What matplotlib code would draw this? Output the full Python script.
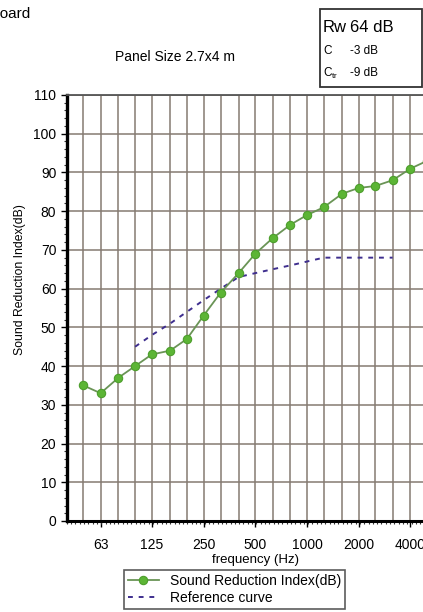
import numpy as np
import matplotlib
matplotlib.use("Agg")
import matplotlib.pyplot as plt
from matplotlib.patches import Rectangle
from matplotlib.ticker import FixedLocator, NullFormatter

plt.rcParams['font.family'] = ['Liberation Sans', 'DejaVu Sans']
plt.rcParams['mathtext.fontset'] = 'custom'
plt.rcParams['mathtext.rm'] = 'Liberation Sans'

# third-octave bands and measured values
freqs = [50, 63, 80, 100, 125, 160, 200, 250, 315, 400, 500, 630, 800,
         1000, 1250, 1600, 2000, 2500, 3150, 4000, 5000]
sri = [35, 33, 37, 40, 43, 44, 47, 53, 59, 64, 69, 73, 76.5,
       79, 81, 84.5, 86, 86.5, 88, 91, 93]

# shifted ISO 717 reference curve
ref_freqs = [100, 125, 160, 200, 250, 315, 400, 500, 630, 800,
             1000, 1250, 1600, 2000, 2500, 3150]
ref = [45, 48, 51, 54, 57, 60, 63, 64, 65, 66, 67, 68, 68, 68, 68, 68]

tick_freqs = [63, 125, 250, 500, 1000, 2000, 4000]
grid_freqs = freqs + [6300]

W, H = 423, 612
fig = plt.figure(figsize=(W / 100, H / 100), dpi=100)

# axes runs past the right edge like the cropped original
ax = fig.add_axes([66.7 / W, 91 / H, 377.7 / W, 426 / H])
ax.set_xscale('log')
ax.set_xlim(40, 6300)
ax.set_ylim(0, 110)

gcol = '#857a72'
for f in grid_freqs:
    ax.axvline(f, color=gcol, lw=1.1, zorder=1)
for v in range(10, 111, 10):
    ax.axhline(v, color=gcol, lw=1.1, zorder=1)

ax.plot(freqs, sri, '-', color='#6a9456', lw=1.3, marker='o', ms=6,
        mfc='#5cb535', mec='#4d9e2c', mew=0.8, zorder=3,
        label='Sound Reduction Index(dB)')
ax.plot(ref_freqs, ref, '--', color='#3e2e8e', lw=1.4, dashes=(2.5, 3),
        zorder=2, label='Reference curve')

ax.xaxis.set_major_locator(FixedLocator(tick_freqs))
ax.set_xticklabels([str(f) for f in tick_freqs])
minor_x = 40 * 2 ** (np.arange(0, 90) / 12)
ax.xaxis.set_minor_locator(FixedLocator(minor_x))
ax.xaxis.set_minor_formatter(NullFormatter())
ax.set_yticks(range(0, 111, 10))
ax.yaxis.set_minor_locator(FixedLocator(range(0, 111, 2)))
ax.tick_params(axis='both', which='major', labelsize=10, length=4,
               width=1, color='black', direction='out')
ax.tick_params(axis='both', which='minor', length=2.5, width=0.8,
               color='#333333', direction='out')
ax.tick_params(axis='x', pad=8)

ax.spines['left'].set_linewidth(2.4)
ax.spines['bottom'].set_linewidth(2.2)
ax.spines['top'].set_color('#555555')
ax.spines['top'].set_linewidth(1.3)
ax.spines['right'].set_visible(False)

ax.set_xlabel('frequency (Hz)', fontsize=9.5, labelpad=2)
ax.set_ylabel('Sound Reduction Index(dB)', fontsize=8.8, labelpad=8)
ax.yaxis.set_label_coords(-41 / 377.7, (612 - 280 - 91) / 426)

fig.text(175 / W, 1 - 57 / H, 'Panel Size 2.7x4 m', fontsize=10,
         ha='center', va='center')
fig.text(31 / W, 1 - 14 / H, 'Plasterboard', fontsize=11,
         ha='right', va='center')

# Rw / C / Ctr box
fig.patches.append(Rectangle((320 / W, 1 - 87 / H), 102 / W, 78 / H,
                             transform=fig.transFigure, fill=False,
                             ec='#333333', lw=1.3))
fig.text(323 / W, 1 - 27 / H, 'Rw', fontsize=12, va='center')
fig.text(350 / W, 1 - 27 / H, '64 dB', fontsize=12, va='center')
fig.text(323 / W, 1 - 51 / H, 'C', fontsize=8.5, va='center')
fig.text(350 / W, 1 - 51 / H, '-3 dB', fontsize=8.5, va='center')
fig.text(323 / W, 1 - 73 / H, r'C$_{\rm tr}$', fontsize=8.5, va='center')
fig.text(350 / W, 1 - 73 / H, '-9 dB', fontsize=8.5, va='center')

leg = fig.legend(loc='upper left', bbox_to_anchor=(124 / W, 1 - 570 / H),
                 fontsize=10, frameon=True, fancybox=False,
                 handlelength=2.2, borderpad=0.3, labelspacing=0.2,
                 borderaxespad=0)
leg.get_frame().set_edgecolor('#333333')
leg.get_frame().set_linewidth(1.2)

fig.savefig('out.png', dpi=100)
